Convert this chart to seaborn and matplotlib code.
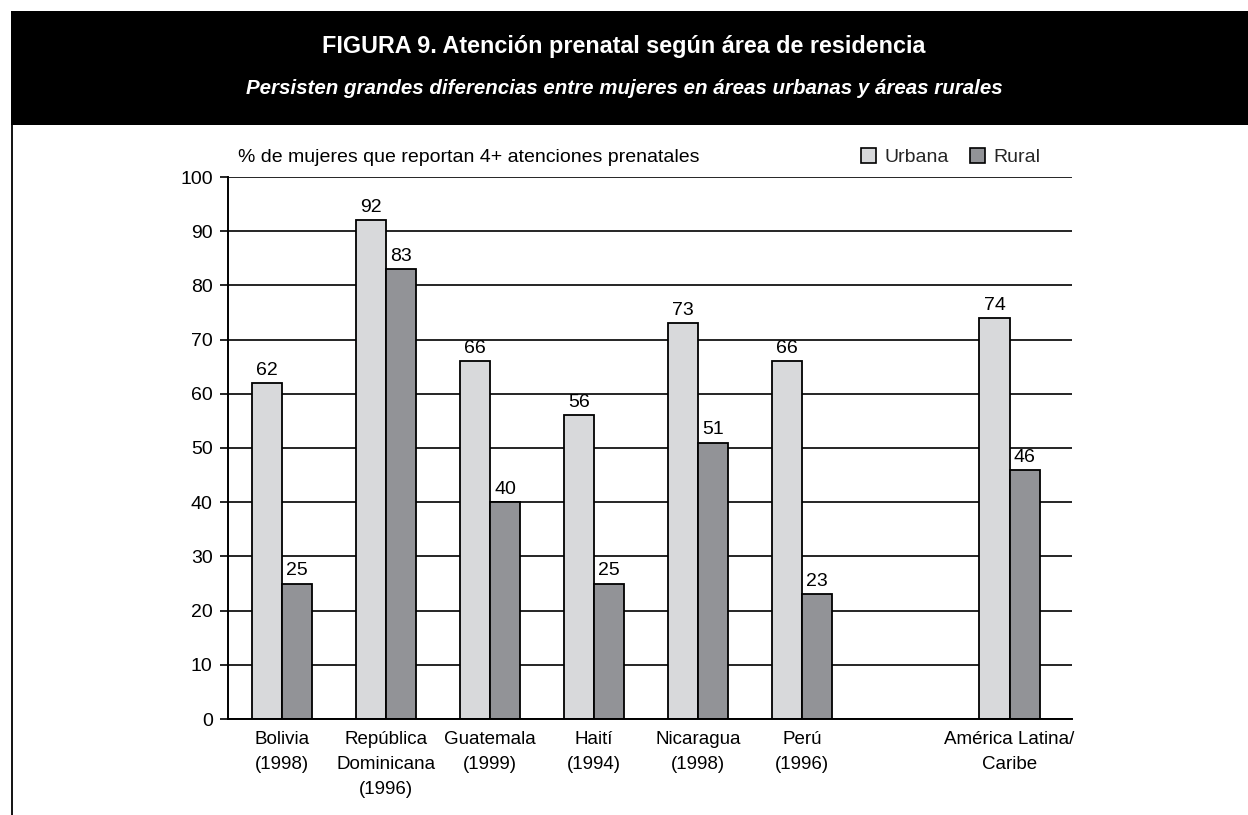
import matplotlib
matplotlib.use("Agg")
import matplotlib.pyplot as plt
import seaborn as sns
import pandas as pd
from matplotlib.patches import Patch, Rectangle
from matplotlib.lines import Line2D

# ---- data ----
categories = ["Bolivia\n(1998)", "República\nDominicana\n(1996)", "Guatemala\n(1999)",
              "Haití\n(1994)", "Nicaragua\n(1998)", "Perú\n(1996)", " ",
              "América Latina/\nCaribe"]
urbana = [62, 92, 66, 56, 73, 66, None, 74]
rural = [25, 83, 40, 25, 51, 23, None, 46]
series = ["Urbana", "Rural"]
yticks = list(range(0, 101, 10))

title = "FIGURA 9. Atención prenatal según área de residencia"
subtitle = "Persisten grandes diferencias entre mujeres en áreas urbanas y áreas rurales"
ylabel = "% de mujeres que reportan 4+ atenciones prenatales"

colors = {"Urbana": "#d8d9db", "Rural": "#929397"}

# ---- style ----
sns.set_theme(style="white")
plt.rcParams["font.family"] = ["Liberation Sans", "DejaVu Sans"]

rows = []
for c, u, r in zip(categories, urbana, rural):
    if u is not None:
        rows.append({"pais": c, "area": "Urbana", "valor": u})
    if r is not None:
        rows.append({"pais": c, "area": "Rural", "valor": r})
df = pd.DataFrame(rows)

W, H = 1248, 815
fig = plt.figure(figsize=(W / 100, H / 100), dpi=100)
ax = fig.add_axes([228 / W, 1 - 719 / H, (1072 - 228) / W, (719 - 177) / H])

sns.barplot(data=df, x="pais", y="valor", hue="area", order=categories,
            hue_order=series, palette=colors, width=0.58, edgecolor="black",
            linewidth=1.3, saturation=1, ax=ax, legend=False)

for cont in ax.containers:
    ax.bar_label(cont, fmt="%.0f", padding=3, fontsize=14, color="black")

ax.set_ylim(0, 100)
ax.set_xlim(-0.52, 7.6)
ax.set_yticks(yticks)
ax.yaxis.grid(True, color="black", linewidth=1.2)
ax.set_axisbelow(True)
ax.set_xlabel("")
ax.set_ylabel("")
for s in ["top", "right"]:
    ax.spines[s].set_visible(False)
for s in ["left", "bottom"]:
    ax.spines[s].set_color("black")
    ax.spines[s].set_linewidth(1.4)
ax.tick_params(axis="y", which="both", left=True, length=6, width=1.2,
               color="black", labelsize=14, pad=5, labelcolor="black")
ax.tick_params(axis="x", length=0, labelsize=13.5, pad=9, labelcolor="black")
for lab in ax.get_xticklabels():
    lab.set_linespacing(1.6)

# header band
fig.patches.append(Rectangle((11 / W, 1 - 125 / H), 1 - 11 / W, (125 - 11) / H,
                             transform=fig.transFigure, facecolor="black",
                             edgecolor="none", zorder=0))
fig.text(0.5, 1 - 47 / H, title, color="white", fontsize=16.8, fontweight="bold",
         ha="center", va="center")
fig.text(0.5, 1 - 89 / H, subtitle, color="white", fontsize=14.8,
         fontweight="bold", style="italic", ha="center", va="center")
fig.lines.append(Line2D([12 / W, 12 / W], [0, 1 - 125 / H], transform=fig.transFigure,
                        color="black", linewidth=1.3))

fig.text(238 / W, 1 - 158 / H, ylabel, fontsize=14, ha="left", va="center",
         color="black")

handles = [Patch(facecolor=colors[s], edgecolor="black", linewidth=1.2, label=s)
           for s in series]
fig.legend(handles=handles, loc="center right",
           bbox_to_anchor=(1048 / W, 1 - 157 / H), ncol=2, frameon=False,
           fontsize=14, handlelength=0.8, handleheight=0.8, handletextpad=0.4,
           columnspacing=1.1, borderaxespad=0)

fig.savefig("out.png", dpi=100)
